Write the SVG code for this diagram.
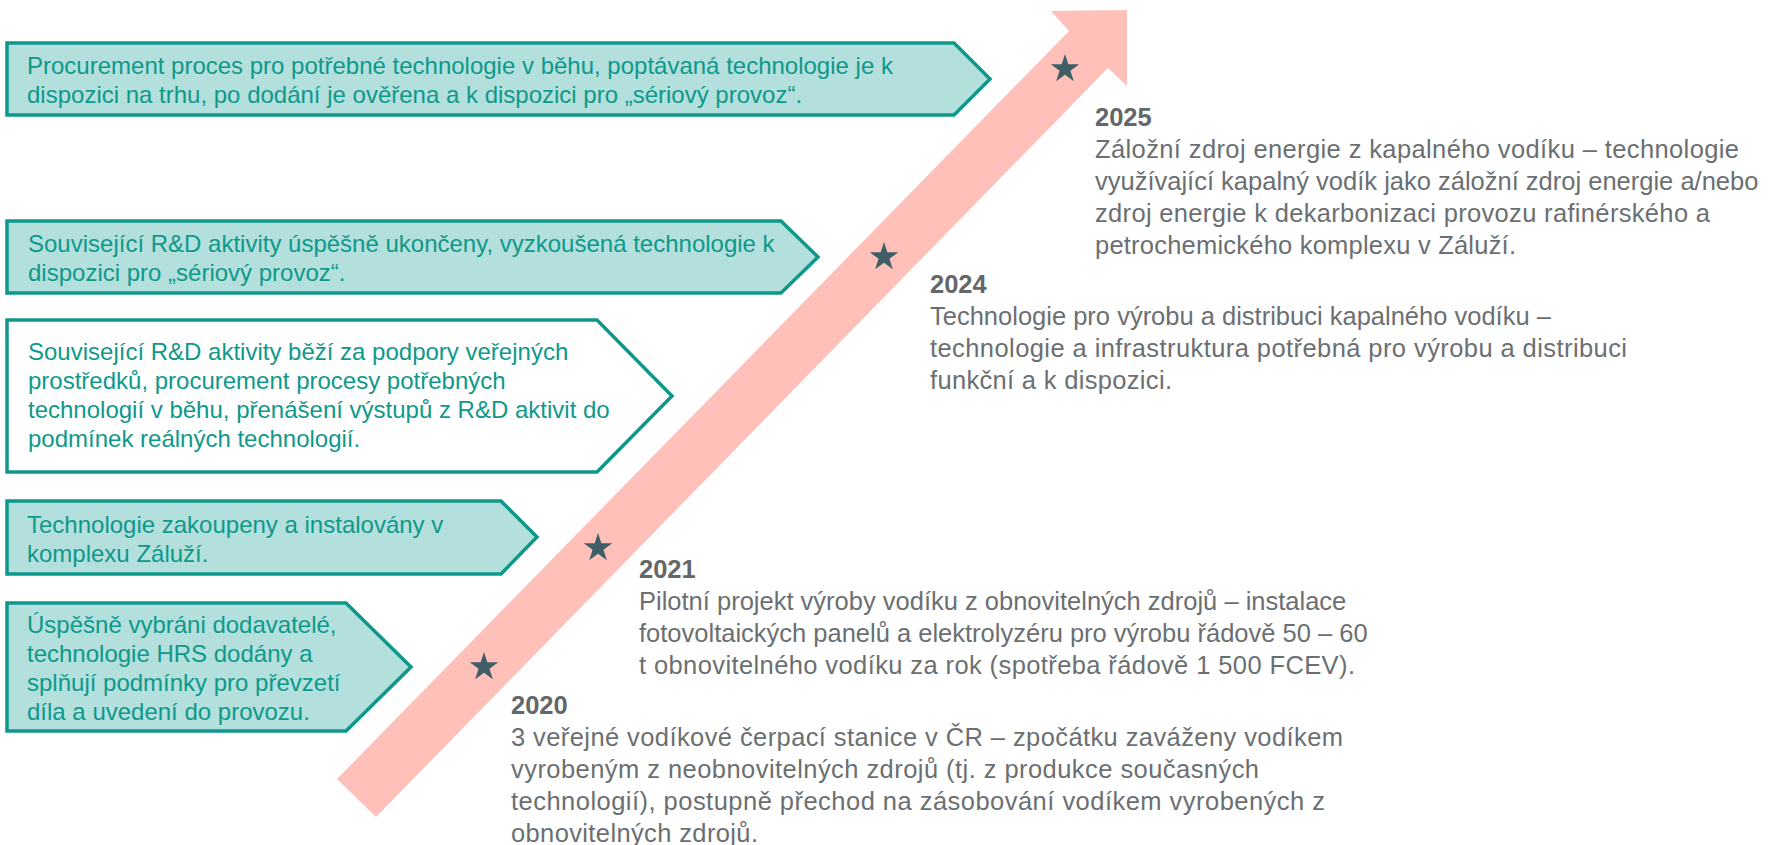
<svg xmlns="http://www.w3.org/2000/svg" width="1789" height="845" viewBox="0 0 1789 845">
  <style>
    .box { stroke: #0E988B; stroke-width: 3.5; stroke-linejoin: miter; }
    .fill { fill: #B3DFDC; }
    .open { fill: #FFFFFF; }
    .boxtext { font-family: "Liberation Sans", Arial, sans-serif; font-size: 24px; fill: #0E998B; }
    .year { font-family: "Liberation Sans", Arial, sans-serif; font-size: 25.5px; font-weight: bold; fill: #63676A; }
    .desc { font-family: "Liberation Sans", Arial, sans-serif; font-size: 25.5px; fill: #6B6F72; }
    .star { fill: #3F5E66; }
  </style>
  <defs>
    <path id="star" d="M0,-15 L3.37,-4.64 L14.27,-4.64 L5.45,1.77 L8.82,12.14 L0,5.73 L-8.82,12.14 L-5.45,1.77 L-14.27,-4.64 L-3.37,-4.64 Z"/>
  </defs>
  <rect width="1789" height="845" fill="#FFFFFF"/>

  <!-- timeline arrow with milestone stars -->
  <g id="connectors">
    <polygon id="timeline-arrow" points="337,779 1069,31 1051,11 1127,10 1127,86 1108,68 376,817" fill="#FFC0BA"/>
    <use href="#star" class="star" x="1065" y="69"/>
    <use href="#star" class="star" x="884" y="257"/>
    <use href="#star" class="star" x="598" y="548"/>
    <use href="#star" class="star" x="484" y="667"/>
  </g>

  <!-- milestone chevrons -->
  <g id="box-procurement">
    <polygon class="box fill" points="7,43 954,43 990,79 954,115 7,115"/>
    <text class="boxtext" x="27" y="74">Procurement proces pro potřebné technologie v běhu, poptávaná technologie je k</text>
    <text class="boxtext" x="27" y="102.5">dispozici na trhu, po dodání je ověřena a k dispozici pro „sériový provoz“.</text>
  </g>
  <g id="box-rd-done">
    <polygon class="box fill" points="7,221 781,221 818,257 781,293 7,293"/>
    <text class="boxtext" x="28" y="252">Související R&amp;D aktivity úspěšně ukončeny, vyzkoušená technologie k</text>
    <text class="boxtext" x="28" y="281">dispozici pro „sériový provoz“.</text>
  </g>
  <g id="box-rd-running">
    <polygon class="box open" points="7,320 597,320 672,396 597,472 7,472"/>
    <text class="boxtext" x="28" y="360">Související R&amp;D aktivity běží za podpory veřejných</text>
    <text class="boxtext" x="28" y="389">prostředků, procurement procesy potřebných</text>
    <text class="boxtext" x="28" y="418">technologií v běhu, přenášení výstupů z R&amp;D aktivit do</text>
    <text class="boxtext" x="28" y="447">podmínek reálných technologií.</text>
  </g>
  <g id="box-installed">
    <polygon class="box fill" points="7,501 501,501 537,537 501,574 7,574"/>
    <text class="boxtext" x="27" y="532.5">Technologie zakoupeny a instalovány v</text>
    <text class="boxtext" x="27" y="561.5">komplexu Záluží.</text>
  </g>
  <g id="box-suppliers">
    <polygon class="box fill" points="7,603 346,603 411,667 346,731 7,731"/>
    <text class="boxtext" x="27" y="633">Úspěšně vybráni dodavatelé,</text>
    <text class="boxtext" x="27" y="662">technologie HRS dodány a</text>
    <text class="boxtext" x="27" y="691">splňují podmínky pro převzetí</text>
    <text class="boxtext" x="27" y="720">díla a uvedení do provozu.</text>
  </g>

  <!-- year descriptions -->
  <g id="year-2025">
    <text class="year" x="1095" y="126">2025</text>
    <text class="desc" x="1095" y="158" textLength="644" lengthAdjust="spacing">Záložní zdroj energie z kapalného vodíku – technologie</text>
    <text class="desc" x="1095" y="190">využívající kapalný vodík jako záložní zdroj energie a/nebo</text>
    <text class="desc" x="1095" y="222" textLength="615" lengthAdjust="spacing">zdroj energie k dekarbonizaci provozu rafinérského a</text>
    <text class="desc" x="1095" y="254" textLength="421" lengthAdjust="spacing">petrochemického komplexu v Záluží.</text>
  </g>
  <g id="year-2024">
    <text class="year" x="930" y="293">2024</text>
    <text class="desc" x="930" y="325">Technologie pro výrobu a distribuci kapalného vodíku –</text>
    <text class="desc" x="930" y="357" textLength="697" lengthAdjust="spacing">technologie a infrastruktura potřebná pro výrobu a distribuci</text>
    <text class="desc" x="930" y="389" textLength="242" lengthAdjust="spacing">funkční a k dispozici.</text>
  </g>
  <g id="year-2021">
    <text class="year" x="639" y="578">2021</text>
    <text class="desc" x="639" y="610">Pilotní projekt výroby vodíku z obnovitelných zdrojů – instalace</text>
    <text class="desc" x="639" y="642">fotovoltaických panelů a elektrolyzéru pro výrobu řádově 50 – 60</text>
    <text class="desc" x="639" y="674" textLength="716" lengthAdjust="spacing">t obnovitelného vodíku za rok (spotřeba řádově 1 500 FCEV).</text>
  </g>
  <g id="year-2020">
    <text class="year" x="511" y="714">2020</text>
    <text class="desc" x="511" y="746" textLength="832" lengthAdjust="spacing">3 veřejné vodíkové čerpací stanice v ČR – zpočátku zaváženy vodíkem</text>
    <text class="desc" x="511" y="778" textLength="748" lengthAdjust="spacing">vyrobeným z neobnovitelných zdrojů (tj. z produkce současných</text>
    <text class="desc" x="511" y="810" textLength="814" lengthAdjust="spacing">technologií), postupně přechod na zásobování vodíkem vyrobených z</text>
    <text class="desc" x="511" y="842" textLength="247" lengthAdjust="spacing">obnovitelných zdrojů.</text>
  </g>
</svg>
